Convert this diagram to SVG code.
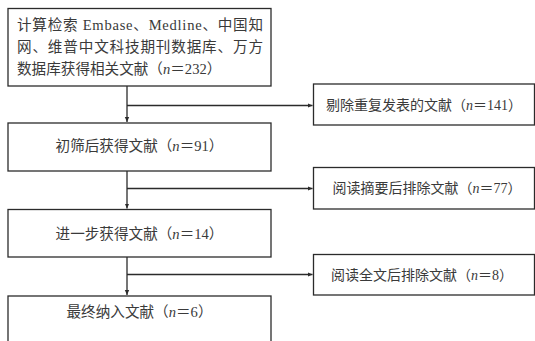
<svg xmlns="http://www.w3.org/2000/svg" width="535" height="341" viewBox="0 0 535 341">
<style>
.box{fill:#fff;stroke:#2b2b2b;stroke-width:1.3}
.t{font-family:'Liberation Serif','Noto Sans CJK SC',serif;fill:#3a3a3a}
.l{font-size:14.6px}
.r{font-size:14px}
.c{text-anchor:middle}
.i{font-style:italic}
.cn{fill:none;stroke:#2b2b2b;stroke-width:1.3}
</style>
<defs>
<marker id="ah" markerWidth="6" markerHeight="6" refX="5" refY="3" orient="auto" markerUnits="userSpaceOnUse">
<path d="M0,0.8 L5,3 L0,5.2 Z" fill="#2b2b2b"/>
</marker>
</defs>
<rect width="535" height="341" fill="#fff"/>
<g id="connectors">
<path class="cn" d="M127,86 V122" marker-end="url(#ah)"/>
<path class="cn" d="M127,105.5 H312.5" marker-end="url(#ah)"/>
<path class="cn" d="M127,171 V208.5" marker-end="url(#ah)"/>
<path class="cn" d="M127,188.5 H312.5" marker-end="url(#ah)"/>
<path class="cn" d="M127,257 V295" marker-end="url(#ah)"/>
<path class="cn" d="M127,274.5 H312.5" marker-end="url(#ah)"/>
</g>
<g id="n1">
<rect class="box" x="8" y="8.5" width="263" height="77.5"/>
<text class="t l" x="17" y="30" textLength="246" lengthAdjust="spacing">计算检索 Embase、Medline、中国知</text>
<text class="t l" x="17" y="52" textLength="246" lengthAdjust="spacing">网、维普中文科技期刊数据库、万方</text>
<text class="t l" x="17" y="74">数据库获得相关文献（<tspan class="i">n</tspan>＝232）</text>
</g>
<g id="n2">
<rect class="box" x="8" y="123" width="263" height="48"/>
<text class="t l c" x="139.5" y="150.5">初筛后获得文献（<tspan class="i">n</tspan>＝91）</text>
</g>
<g id="n3">
<rect class="box" x="8" y="209.5" width="263" height="47.5"/>
<text class="t l c" x="139.5" y="238.5">进一步获得文献（<tspan class="i">n</tspan>＝14）</text>
</g>
<g id="n4">
<rect class="box" x="8" y="296" width="263" height="50"/>
<text class="t l c" x="139.5" y="317">最终纳入文献（<tspan class="i">n</tspan>＝6）</text>
</g>
<g id="n5">
<rect class="box" x="313.5" y="84" width="221" height="41"/>
<text class="t r c" x="424" y="109.5">剔除重复发表的文献（<tspan class="i">n</tspan>＝141）</text>
</g>
<g id="n6">
<rect class="box" x="313.5" y="167.5" width="221" height="41.5"/>
<text class="t r c" x="427" y="193">阅读摘要后排除文献（<tspan class="i">n</tspan>＝77）</text>
</g>
<g id="n7">
<rect class="box" x="313.5" y="254.5" width="221" height="40.5"/>
<text class="t r c" x="422" y="279.5">阅读全文后排除文献（<tspan class="i">n</tspan>＝8）</text>
</g>
</svg>
